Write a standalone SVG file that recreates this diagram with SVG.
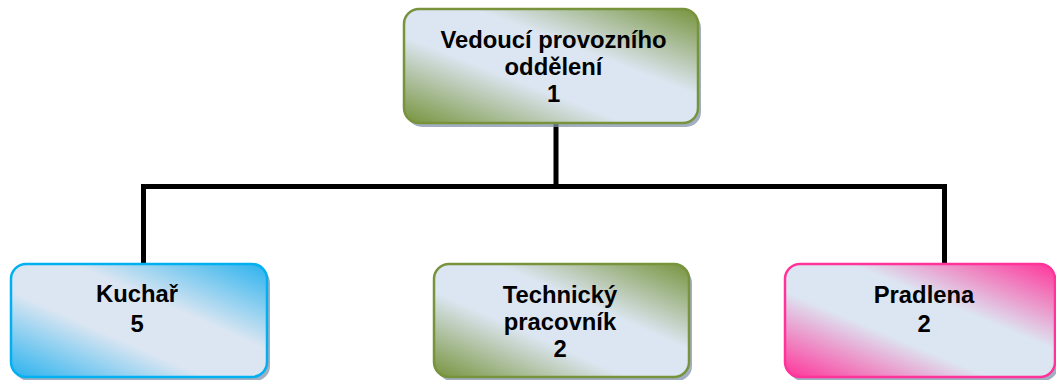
<svg xmlns="http://www.w3.org/2000/svg" width="1056" height="380" viewBox="0 0 1056 380">
  <defs>
    <linearGradient id="gGreen" x1="0" y1="1" x2="1" y2="0">
      <stop offset="0" stop-color="#77933c"/>
      <stop offset="0.38" stop-color="#dce6f2"/>
      <stop offset="0.62" stop-color="#dce6f2"/>
      <stop offset="1" stop-color="#77933c"/>
    </linearGradient>
    <linearGradient id="gBlue" x1="0" y1="1" x2="1" y2="0">
      <stop offset="0" stop-color="#29b2ee"/>
      <stop offset="0.38" stop-color="#dce6f2"/>
      <stop offset="0.62" stop-color="#dce6f2"/>
      <stop offset="1" stop-color="#29b2ee"/>
    </linearGradient>
    <linearGradient id="gPink" x1="0" y1="1" x2="1" y2="0">
      <stop offset="0" stop-color="#ff3399"/>
      <stop offset="0.38" stop-color="#dce6f2"/>
      <stop offset="0.62" stop-color="#dce6f2"/>
      <stop offset="1" stop-color="#ff3399"/>
    </linearGradient>
  </defs>
  <style>
    .shadow { fill: #8393ad; opacity: 0.75; }
    .box { stroke-width: 2.5; }
    .green { fill: url(#gGreen); stroke: #77933c; }
    .blue { fill: url(#gBlue); stroke: #00b0f0; }
    .pink { fill: url(#gPink); stroke: #ff3399; }
    .label { font-family: "Liberation Sans", Arial, sans-serif; font-weight: bold; font-size: 23.8px; fill: #000; text-anchor: middle; }
    .conn { fill: none; stroke: #000; stroke-width: 5; stroke-linejoin: miter; }
  </style>
  <g id="connectors">
    <path class="conn" d="M556 123 V186.5"/>
    <path class="conn" d="M143.5 264 V186.5 H944.5 V264"/>
  </g>
  <g id="node-vedouci">
    <rect class="shadow" x="407" y="13" width="294" height="114" rx="15"/>
    <rect class="box green" x="404" y="9" width="294" height="114" rx="15"/>
    <text class="label" x="553.5" y="48">Vedoucí provozního</text>
    <text class="label" x="553.5" y="75">oddělení</text>
    <text class="label" x="553.5" y="102">1</text>
  </g>
  <g id="node-kuchar">
    <rect class="shadow" x="14" y="268" width="256" height="113" rx="15"/>
    <rect class="box blue" x="11" y="264" width="256" height="113" rx="15"/>
    <text class="label" x="137" y="302">Kuchař</text>
    <text class="label" x="137" y="332">5</text>
  </g>
  <g id="node-technicky">
    <rect class="shadow" x="437" y="268" width="255" height="113" rx="15"/>
    <rect class="box green" x="434" y="264" width="255" height="113" rx="15"/>
    <text class="label" x="560" y="303">Technický</text>
    <text class="label" x="560" y="330">pracovník</text>
    <text class="label" x="560" y="357">2</text>
  </g>
  <g id="node-pradlena">
    <rect class="shadow" x="788" y="268" width="270" height="113" rx="15"/>
    <rect class="box pink" x="785" y="264" width="270" height="113" rx="15"/>
    <text class="label" x="924" y="303">Pradlena</text>
    <text class="label" x="924" y="332">2</text>
  </g>
</svg>
